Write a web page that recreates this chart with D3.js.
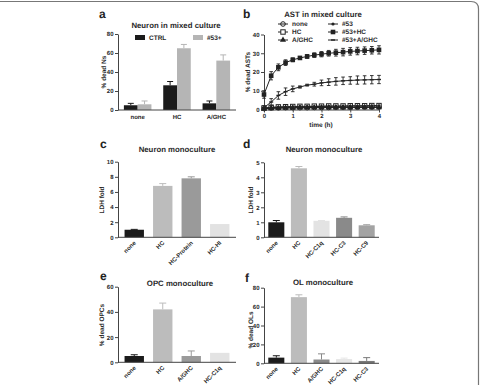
<!DOCTYPE html>
<html>
<head>
<meta charset="utf-8">
<script src="https://d3js.org/d3.v7.min.js"></script>
<style>
  body { margin: 0; background: #fff; }
  svg { font-family: "Liberation Sans", Arial, sans-serif; text-rendering: geometricPrecision; }
  .tick text { font-size: 6px; fill: #2a2a2a; font-weight: bold; }
  .domain, .tick line { stroke: #444; }
</style>
</head>
<body>
<script>
// panel a
var aCats = ["none", "HC", "A/GHC"];
var aGroups = ["CTRL", "#53+"];
var aCtrl = [5, 26, 7];
var aCtrlErr = [2, 4, 2.5];
var aMab = [6, 65, 52];
var aMabErr = [3.5, 4, 6];

// panel b
var bTimes = [0, 0.25, 0.5, 0.75, 1, 1.25, 1.5, 1.75, 2, 2.25, 2.5, 2.75, 3, 3.25, 3.5, 3.75, 4];
var bNames = ["none", "HC", "A/GHC", "#53", "#53+HC", "#53+A/GHC"];
var bNone = [0.5, 0.8, 0.9, 1, 1, 1, 1, 1.1, 1.1, 1.1, 1.2, 1.2, 1.2, 1.2, 1.3, 1.3, 1.3];
var bHC = [0.8, 1.2, 1.4, 1.5, 1.6, 1.7, 1.7, 1.8, 1.8, 1.9, 1.9, 1.9, 2, 2, 2, 2.1, 2.1];
var bAGHC = [0.4, 0.6, 0.7, 0.8, 0.8, 0.9, 0.9, 0.9, 1, 1, 1, 1, 1, 1.1, 1.1, 1.1, 1.1];
var b53 = [0.6, 1, 1.2, 1.3, 1.4, 1.5, 1.5, 1.6, 1.6, 1.7, 1.7, 1.7, 1.8, 1.8, 1.8, 1.9, 1.9];
var b53HC = [8, 18, 22.5, 25, 26.5, 27.5, 28.3, 29, 29.5, 30, 30.3, 30.6, 31, 31.2, 31.4, 31.6, 31.8];
var b53HCErr = [2, 2.2, 1.8, 1.5, 1, 0.8, 1, 1.2, 1.4, 1.5, 1.8, 2, 2, 2, 2, 2, 2.2];
var b53AG = [1, 4, 7.5, 9.5, 11, 12, 13, 13.5, 14.2, 14.6, 15, 15.3, 15.5, 15.7, 15.8, 15.9, 16];
var b53AGErr = [1, 1.8, 2, 2, 1.5, 0.6, 0.5, 1, 1.5, 1.8, 2, 2, 2, 2.2, 2.2, 2.2, 2.2];

// panel c
var cCats = ["none", "HC", "HC-Protein", "HC-HI"];
var cVals = [1.0, 6.8, 7.8, 1.75];
var cErr = [0.05, 0.3, 0.2, 0];

// panel d
var dCats = ["none", "HC", "HC-C1q", "HC-C3", "HC-C9"];
var dVals = [1.0, 4.6, 1.1, 1.3, 0.8];
var dErr = [0.12, 0.12, 0.02, 0.06, 0.04];

// panel e
var eCats = ["none", "HC", "A/GHC", "HC-C1q"];
var eVals = [5, 42, 5, 7.5];
var eErr = [1, 5, 4, 0];

// panel f
var fCats = ["none", "HC", "A/GHC", "HC-C1q", "HC-C3"];
var fVals = [6, 70, 4, 4.5, 2.5];
var fErr = [2, 2.5, 6, 1, 3.5];

var ink = "#2a2a2a";
var svg = d3.select("body").append("svg").attr("width", 482).attr("height", 385);

// frame, top and right with a rounded corner
svg.append("path")
  .attr("d", "M0,1.5 L471,1.5 Q478.5,1.5 478.5,9 L478.5,385")
  .attr("fill", "none").attr("stroke", "#777").attr("stroke-width", 1.2);

function letter(t, x, y) {
  svg.append("text").text(t).attr("x", x).attr("y", y)
    .attr("font-size", 12).attr("font-weight", "bold").attr("fill", "#222");
}
function title(t, x, y) {
  svg.append("text").text(t).attr("x", x).attr("y", y).attr("text-anchor", "middle")
    .attr("font-size", 7.8).attr("font-weight", "bold").attr("fill", ink);
}
function ylabel(t, x, y) {
  svg.append("text").text(t).attr("transform", "translate(" + x + "," + y + ") rotate(-90)")
    .attr("text-anchor", "middle").attr("font-size", 6.5).attr("font-weight", "bold").attr("fill", ink);
}
function yAxis(y, x0, ticks) {
  svg.append("g").attr("transform", "translate(" + x0 + ",0)")
    .call(d3.axisLeft(y).tickValues(ticks).tickFormat(d3.format("d"))
      .tickSize(3).tickPadding(1.5).tickSizeOuter(0));
}

// ---- panel a ----
letter("a", 99, 18);
title("Neuron in mixed culture", 176, 28);
var ax = d3.scaleBand().domain(aCats).range([118, 236]).paddingInner(0.3).paddingOuter(0.15);
var ax2 = d3.scaleBand().domain(aGroups).range([0, ax.bandwidth()]);
var ay = d3.scaleLinear().domain([0, 80]).range([110, 34]);
var aColor = {"CTRL": "#1b1b1b", "#53+": "#b5b5b5"};
var aRows = [];
aCats.forEach(function (c, i) {
  aRows.push({cat: c, g: "CTRL", v: aCtrl[i], e: aCtrlErr[i]});
  aRows.push({cat: c, g: "#53+", v: aMab[i], e: aMabErr[i]});
});
aRows.forEach(function (d) {
  var x = ax(d.cat) + ax2(d.g);
  var cx = x + ax2.bandwidth() / 2;
  svg.append("line").attr("x1", cx).attr("x2", cx).attr("y1", ay(d.v)).attr("y2", ay(d.v + d.e))
    .attr("stroke", aColor[d.g]).attr("stroke-width", 1);
  svg.append("line").attr("x1", cx - 3).attr("x2", cx + 3).attr("y1", ay(d.v + d.e)).attr("y2", ay(d.v + d.e))
    .attr("stroke", aColor[d.g]).attr("stroke-width", 1);
  svg.append("rect").attr("x", x).attr("width", ax2.bandwidth())
    .attr("y", ay(d.v)).attr("height", ay(0) - ay(d.v)).attr("fill", aColor[d.g]);
});
yAxis(ay, 118, [0, 20, 40, 60, 80]);
svg.append("line").attr("x1", 118).attr("x2", 236).attr("y1", 110).attr("y2", 110).attr("stroke", "#444");
aCats.forEach(function (c) {
  svg.append("text").text(c).attr("x", ax(c) + ax.bandwidth() / 2).attr("y", 119)
    .attr("text-anchor", "middle").attr("font-size", 6).attr("font-weight", "bold").attr("fill", ink);
});
ylabel("% dead Ns", 106, 72);
aGroups.forEach(function (g, i) {
  var lx = [135, 193][i];
  svg.append("rect").attr("x", lx).attr("y", 35).attr("width", 10).attr("height", 5).attr("fill", aColor[g]);
  svg.append("text").text(g).attr("x", lx + 14).attr("y", 40).attr("font-size", 6.5)
    .attr("font-weight", "bold").attr("fill", ink);
});

// ---- panel b ----
letter("b", 243, 18);
title("AST in mixed culture", 323, 17);
var bx = d3.scaleLinear().domain([0, 4]).range([264, 379]);
var by = d3.scaleLinear().domain([0, 40]).range([109.5, 34.5]);
svg.append("g").attr("transform", "translate(0,109.5)")
  .call(d3.axisBottom(bx).ticks(4).tickFormat(d3.format("d")).tickSize(3).tickPadding(1.5).tickSizeOuter(0));
yAxis(by, 264, [0, 10, 20, 30, 40]);
svg.append("text").text("time (h)").attr("x", 321).attr("y", 127).attr("text-anchor", "middle")
  .attr("font-size", 6.5).attr("font-weight", "bold").attr("fill", ink);
ylabel("% dead ASTs", 250, 72);

var bSeries = [
  {name: "none", vals: bNone, err: null, shape: "circleOpen"},
  {name: "HC", vals: bHC, err: null, shape: "squareOpen"},
  {name: "A/GHC", vals: bAGHC, err: null, shape: "triangle"},
  {name: "#53", vals: b53, err: null, shape: "dot"},
  {name: "#53+HC", vals: b53HC, err: b53HCErr, shape: "square"},
  {name: "#53+A/GHC", vals: b53AG, err: b53AGErr, shape: "dash"}
];
function marker(g, shape, x, y) {
  if (shape === "circleOpen") {
    g.append("circle").attr("cx", x).attr("cy", y).attr("r", 2.3).attr("fill", "#fff").attr("stroke", "#222").attr("stroke-width", 1);
    g.append("line").attr("x1", x - 2.3).attr("x2", x + 2.3).attr("y1", y).attr("y2", y).attr("stroke", "#222");
  } else if (shape === "squareOpen") {
    g.append("rect").attr("x", x - 2.2).attr("y", y - 2.2).attr("width", 4.4).attr("height", 4.4)
      .attr("fill", "#fff").attr("stroke", "#222").attr("stroke-width", 1);
  } else if (shape === "triangle") {
    g.append("path").attr("d", d3.symbol(d3.symbolTriangle, 16)()).attr("transform", "translate(" + x + "," + y + ")")
      .attr("fill", "#222");
  } else if (shape === "dot") {
    g.append("circle").attr("cx", x).attr("cy", y).attr("r", 1.6).attr("fill", "#222");
  } else if (shape === "square") {
    g.append("rect").attr("x", x - 2.3).attr("y", y - 2.3).attr("width", 4.6).attr("height", 4.6).attr("fill", "#222");
  } else {
    g.append("rect").attr("x", x - 2).attr("y", y - 0.7).attr("width", 4).attr("height", 1.4).attr("fill", "#222");
  }
}
var bLine = d3.line().x(function (d) { return bx(d[0]); }).y(function (d) { return by(d[1]); });
bSeries.forEach(function (s) {
  var g = svg.append("g");
  var pts = bTimes.map(function (t, i) { return [t, s.vals[i]]; });
  g.append("path").attr("d", bLine(pts)).attr("fill", "none").attr("stroke", "#222").attr("stroke-width", 1);
  if (s.err) {
    bTimes.forEach(function (t, i) {
      var x = bx(t), y1 = by(s.vals[i] - s.err[i]), y2 = by(s.vals[i] + s.err[i]);
      g.append("line").attr("x1", x).attr("x2", x).attr("y1", y1).attr("y2", y2).attr("stroke", "#222").attr("stroke-width", 0.9);
      g.append("line").attr("x1", x - 1.8).attr("x2", x + 1.8).attr("y1", y1).attr("y2", y1).attr("stroke", "#222").attr("stroke-width", 0.9);
      g.append("line").attr("x1", x - 1.8).attr("x2", x + 1.8).attr("y1", y2).attr("y2", y2).attr("stroke", "#222").attr("stroke-width", 0.9);
    });
  }
  bTimes.forEach(function (t, i) { marker(g, s.shape, bx(t), by(s.vals[i])); });
});
bSeries.forEach(function (s, i) {
  var col = Math.floor(i / 3), row = i % 3;
  var mx = [283, 333][col], my = [24, 32, 40][row];
  var g = svg.append("g");
  g.append("line").attr("x1", mx - 5).attr("x2", mx + 5).attr("y1", my).attr("y2", my).attr("stroke", "#222");
  marker(g, s.shape, mx, my);
  g.append("text").text(s.name).attr("x", mx + 9).attr("y", my + 2.3).attr("font-size", 6.5)
    .attr("font-weight", "bold").attr("fill", ink);
});

// ---- bar panels c-f ----
function barPanel(cats, vals, errs, colors, x0, x1, yDom, yBottom, yTop, ticks, pI, pO) {
  var x = d3.scaleBand().domain(cats).range([x0, x1]).paddingInner(pI).paddingOuter(pO);
  var y = d3.scaleLinear().domain([0, yDom]).range([yBottom, yTop]);
  cats.forEach(function (c, i) {
    var cx = x(c) + x.bandwidth() / 2;
    if (errs[i] > 0) {
      svg.append("line").attr("x1", cx).attr("x2", cx).attr("y1", y(vals[i])).attr("y2", y(vals[i] + errs[i]))
        .attr("stroke", colors[i]).attr("stroke-width", 1);
      svg.append("line").attr("x1", cx - 3.5).attr("x2", cx + 3.5).attr("y1", y(vals[i] + errs[i])).attr("y2", y(vals[i] + errs[i]))
        .attr("stroke", colors[i]).attr("stroke-width", 1);
    }
    svg.append("rect").attr("x", x(c)).attr("width", x.bandwidth()).attr("y", y(vals[i]))
      .attr("height", y(0) - y(vals[i])).attr("fill", colors[i]);
    svg.append("text").text(c).attr("text-anchor", "end").attr("font-size", 6).attr("font-weight", "bold").attr("fill", ink)
      .attr("transform", "translate(" + (cx + 2) + "," + (yBottom + 6) + ") rotate(-45)");
  });
  yAxis(y, x0, ticks);
  svg.append("line").attr("x1", x0).attr("x2", x1).attr("y1", yBottom).attr("y2", yBottom).attr("stroke", "#444");
}

letter("c", 100, 148);
title("Neuron monoculture", 177, 152);
barPanel(cCats, cVals, cErr, ["#1b1b1b", "#bcbcbc", "#9a9a9a", "#e2e2e2"],
  118, 236, 10, 237.3, 161.7, [0, 2, 4, 6, 8, 10], 0.32, 0.23);
ylabel("LDH fold", 104, 200);

letter("d", 243, 148);
title("Neuron monoculture", 324, 152);
barPanel(dCats, dVals, dErr, ["#1b1b1b", "#bcbcbc", "#e3e3e3", "#8a8a8a", "#a3a3a3"],
  264, 379, 5, 237.3, 162.3, [0, 1, 2, 3, 4, 5], 0.29, 0.19);
ylabel("LDH fold", 253, 200);

letter("e", 100, 280);
title("OPC monoculture", 180, 286);
barPanel(eCats, eVals, eErr, ["#1b1b1b", "#bcbcbc", "#9a9a9a", "#e3e3e3"],
  118, 236, 60, 362.3, 286.7, [0, 20, 40, 60], 0.32, 0.23);
ylabel("% dead OPCs", 104, 325);

letter("f", 245, 282);
title("OL monoculture", 323, 285);
barPanel(fCats, fVals, fErr, ["#1b1b1b", "#bcbcbc", "#8a8a8a", "#e6e6e6", "#7a7a7a"],
  264, 379, 80, 363.3, 287.7, [0, 20, 40, 60, 80], 0.29, 0.19);
ylabel("% dead OLs", 253, 330);
</script>
</body>
</html>
